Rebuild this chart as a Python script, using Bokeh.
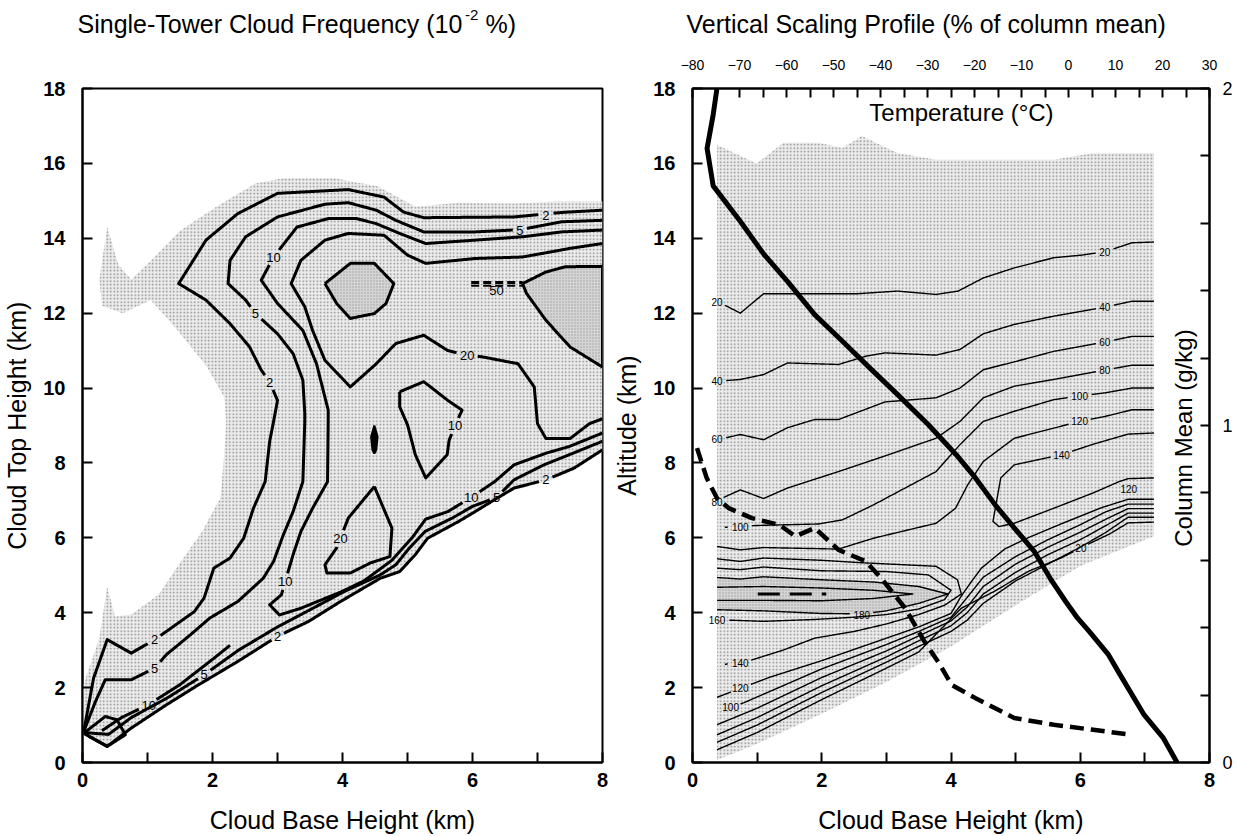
import math
from bokeh.plotting import figure
from bokeh.models import Range1d, LinearAxis, FixedTicker, Label
from bokeh.layouts import row, column
from bokeh.embed import file_html
from bokeh.resources import INLINE
from bokeh.core.properties import value

FONT = "Liberation Sans"
NAN = float("nan")

# ---------------- TITLES ----------------
left_title = ["Single-Tower Cloud Frequency (10", "-2", "%)"]
right_title = "Vertical Scaling Profile (% of column mean)"

# ---------------- LEFT PANEL DATA (cloud base km, cloud top km) ----------------
stipple_left = [(0.0,0.75),(0.0,2.0),(0.26,3.32),(0.38,4.7),(0.5,3.9),(0.75,3.95),(1.17,4.48),
    (1.48,5.28),(1.84,6.17),(2.12,7.06),(2.18,8.22),(2.21,9.11),(2.18,9.76),(1.9,10.6),(1.42,11.63),
    (1.05,12.35),(0.62,12.0),(0.3,12.2),(0.26,12.9),(0.38,14.3),(0.55,13.3),(0.75,12.9),(1.05,13.4),
    (1.5,14.2),(2.06,14.84),(2.66,15.46),(3.09,15.6),(3.88,15.6),(4.55,15.38),(5.12,14.84),(5.8,14.95),
    (6.64,14.93),(7.25,14.98),(8.0,14.98),(8.0,8.3),(7.56,7.8),(7.13,7.5),(6.64,7.28),(6.34,6.97),
    (6.04,6.65),(5.79,6.39),(5.31,5.94),(5.12,5.5),(4.88,5.05),(4.58,4.87),(3.97,4.25),(3.48,3.72),
    (3.0,3.32),(2.39,2.65),(1.78,2.02),(1.29,1.49),(0.75,0.87),(0.38,0.38),(0.0,0.75)]

freq50_a = [(3.73,12.79),(4.12,13.33),(4.49,13.33),(4.79,12.79),(4.67,12.26),(4.49,11.99),
    (4.12,11.86),(3.91,12.26),(3.73,12.79)]
freq50_b = [(6.77,12.79),(7.13,13.1),(7.43,13.24),(8.0,13.25),(8.0,10.56),(7.5,11.1),(7.13,11.81),
    (6.83,12.53),(6.77,12.79)]
freq50_sliver = [(5.98,12.79),(6.77,12.79)]
freq50_labels = [(6.37,12.6,"50")]

freq2_outer = [(8.0,14.75),(7.37,14.69),(6.64,14.57),(5.25,14.55),(4.94,14.7),(4.64,15.1),(4.09,15.3),
    (3.0,15.2),(2.39,14.66),(1.9,13.95),(1.48,12.79),(1.9,12.35),(2.27,11.72),(2.57,11.1),(2.75,10.48),
    (2.88,10.16),(3.0,9.67),(2.94,9.11),(2.88,8.58),(2.81,7.5),(2.63,6.79),(2.48,5.99),(2.27,5.46),
    (2.02,5.19),(1.87,4.39),(1.72,4.03),(1.29,3.5),(1.11,3.28),(0.75,2.92),(0.38,3.28),(0.17,2.25),(0.02,0.83)]
freq2_outer_labels = [(7.13,14.62,"2"),(2.88,10.16,"2"),(1.11,3.28,"2")]
freq2_diag = [(0.02,0.78),(0.38,0.43),(0.75,0.92),(1.29,1.54),(1.78,2.07),(2.39,2.7),(3.0,3.37),
    (3.48,3.77),(3.97,4.3),(4.58,4.92),(4.88,5.1),(5.12,5.55),(5.31,5.99),(5.79,6.44),(6.04,6.7),
    (6.34,7.02),(6.64,7.33),(7.13,7.55),(7.56,7.86),(8.0,8.35)]
freq2_diag_labels = [(3.0,3.37,"2"),(7.13,7.55,"2")]

freq5_outer = [(8.0,14.48),(7.37,14.44),(6.73,14.23),(6.04,14.17),(5.25,14.17),(4.82,14.48),(4.52,14.75),
    (4.09,14.95),(3.73,14.91),(3.0,14.57),(2.51,14.04),(2.27,13.41),(2.24,12.79),(2.51,12.35),(2.66,11.99),
    (3.0,11.45),(3.24,10.92),(3.39,10.21),(3.42,9.32),(3.42,9.11),(3.39,7.5),(3.24,6.7),(3.09,6.08),
    (2.94,5.37),(2.78,4.92),(2.39,4.3),(1.96,3.86),(1.66,3.41),(1.29,2.88),(1.11,2.52),(0.75,2.21),
    (0.35,2.21),(0.2,1.63),(0.02,0.83)]
freq5_outer_labels = [(6.73,14.22,"5"),(2.66,11.99,"5"),(1.11,2.52,"5")]
freq5_diag = [(0.02,0.8),(0.4,0.75),(0.75,1.2),(1.3,1.72),(1.87,2.34),(2.4,3.0),(3.0,3.62),(3.6,4.17),
    (4.03,4.57),(4.58,5.01),(4.82,5.28),(5.03,5.73),(5.27,6.17),(5.69,6.53),(6.0,6.84),(6.37,7.08),
    (6.64,7.55),(7.1,7.95),(7.49,8.22),(8.0,8.58)]
freq5_diag_labels = [(1.87,2.34,"5"),(6.37,7.08,"5")]

freq10_main = [(8.0,14.22),(7.37,14.17),(6.77,14.04),(6.04,13.95),(5.28,13.86),(4.88,14.13),(4.52,14.39),
    (4.21,14.53),(3.79,14.53),(3.30,14.3),(2.94,13.5),(2.75,12.88),(3.0,12.26),(3.39,11.54),(3.6,10.65),
    (3.78,9.41),(3.78,9.11),(3.77,7.5),(3.54,6.79),(3.36,6.17),(3.24,5.55),(3.12,4.84),(3.06,4.48),
    (2.88,4.21),(3.03,3.94),(3.36,4.12),(3.97,4.55),(4.33,4.85),(4.76,5.4),(5.07,6.0),(5.28,6.5),
    (5.62,6.7),(5.98,7.08),(6.34,7.5),(6.64,7.95),(7.13,8.26),(7.49,8.44),(8.0,8.8)]
freq10_main_labels = [(2.94,13.5,"10"),(3.12,4.84,"10"),(5.98,7.08,"10")]
freq10_sliver = [(0.3,0.85),(0.6,1.2),(1.02,1.55),(1.5,2.08),(2.02,2.78),(2.27,3.13)]
freq10_sliver_labels = [(1.02,1.52,"10")]
freq10_loop = [(4.88,9.9),(5.25,10.17),(5.62,9.67),(5.84,9.41),(5.73,9.0),(5.64,8.6),(5.61,8.22),
    (5.28,7.6),(5.12,8.22),(5.0,9.02),(4.88,9.5),(4.88,9.9)]
freq10_loop_labels = [(5.73,9.0,"10")]
freq_origin_loop = [(0.02,0.78),(0.35,1.23),(0.53,1.14),(0.66,0.74),(0.38,0.43),(0.02,0.78)]

freq20_main = [(8.0,13.86),(7.5,13.73),(6.77,13.5),(6.04,13.46),(5.28,13.33),(5.0,13.55),(4.64,14.08),
    (4.09,14.13),(3.73,13.95),(3.36,13.41),(3.21,12.79),(3.42,12.17),(3.54,11.54),(3.73,10.74),
    (4.12,10.03),(4.52,10.65),(4.82,11.19),(5.25,11.41),(5.62,11.0),(5.92,10.88),(6.16,10.83),
    (6.7,10.65),(6.95,10.03),(7.0,9.05),(7.13,8.65),(7.5,8.65),(7.8,9.05),(8.0,9.18)]
freq20_main_labels = [(5.92,10.88,"20")]
freq20_loop = [(4.49,7.37),(4.09,6.53),(3.97,6.0),(3.91,5.73),(3.73,5.28),(3.76,5.06),(4.12,5.06),
    (4.43,5.33),(4.73,5.5),(4.76,6.26),(4.49,7.37)]
freq20_loop_labels = [(3.97,5.98,"20")]
freq_peak_dot = [(4.49,9.0),(4.54,8.7),(4.52,8.35),(4.49,8.25),(4.46,8.35),(4.44,8.7),(4.49,9.0)]

# ---------------- RIGHT PANEL DATA (cloud base km, altitude km) ----------------
stipple_right = [(0.38,0.07),(0.38,16.5),(0.99,16.0),(1.41,16.55),(1.95,16.55),(2.32,16.41),(2.62,16.73),
    (3.17,16.28),(3.77,16.1),(5.59,16.1),(6.2,16.28),(7.14,16.28),(7.14,6.04),(6.0,5.25),(5.0,4.2),
    (4.0,3.1),(3.0,2.15),(2.0,1.3),(1.0,0.5),(0.38,0.07)]

prof20 = [(0.38,12.32),(0.74,12.0),(1.10,12.52),(2.56,12.52),(3.17,12.59),(3.77,12.5),(4.11,12.59),
    (4.5,12.94),(4.98,13.21),(5.59,13.48),(6.02,13.55),(6.38,13.64),(6.8,13.88),(7.14,13.9)]
prof20_labels = [(0.38,12.3,"20"),(6.38,13.64,"20")]
prof40 = [(0.38,10.18),(0.74,10.23),(1.1,10.36),(1.47,10.67),(2.26,10.63),(2.68,10.85),(2.98,10.94),
    (3.77,10.88),(4.14,11.03),(4.5,11.45),(4.98,11.7),(5.59,11.92),(6.38,12.16),(6.8,12.32),(7.14,12.32)]
prof40_labels = [(0.38,10.18,"40"),(6.38,12.16,"40")]
prof60 = [(0.38,8.62),(0.74,8.76),(1.1,8.62),(1.47,8.94),(1.89,9.16),(2.26,9.16),(2.98,9.63),(3.77,9.74),
    (4.14,10.0),(4.5,10.49),(4.98,10.7),(5.59,10.98),(6.38,11.23),(6.8,11.38),(7.14,11.38)]
prof60_labels = [(0.38,8.64,"60"),(6.38,11.23,"60")]
prof80 = [(0.38,7.0),(0.74,7.28),(1.1,7.05),(1.47,7.33),(2.26,7.77),(3.0,8.2),(3.77,8.66),(4.14,9.11),
    (4.5,9.74),(4.98,10.05),(5.59,10.23),(6.38,10.48),(6.8,10.61),(7.14,10.61)]
prof80_labels = [(0.38,6.97,"80"),(6.38,10.48,"80")]
prof100 = [(0.5,6.28),(0.98,6.33),(1.95,6.37),(2.32,6.48),(2.8,6.88),(3.29,7.33),(3.77,7.77),(4.14,8.49),
    (4.5,9.11),(4.98,9.38),(5.59,9.69),(5.99,9.79),(6.38,9.87),(6.8,10.0),(7.14,10.0)]
prof100_labels = [(0.74,6.28,"100"),(5.99,9.79,"100")]
prof120_upper = [(0.38,5.77),(0.74,5.68),(1.1,5.74),(2.26,5.7),(2.8,5.99),(3.77,6.39),(4.07,6.79),
    (4.26,7.42),(4.5,8.04),(4.98,8.66),(5.59,8.93),(5.99,9.11),(6.38,9.24),(6.8,9.42),(7.14,9.42)]
prof120_upper_labels = [(5.99,9.11,"120")]
prof140_loop = [(7.14,8.8),(6.74,8.77),(6.2,8.5),(5.71,8.22),(4.98,7.95),(4.77,7.6),(4.65,6.44),
    (4.74,6.3),(4.98,6.39),(5.59,6.79),(6.2,7.2),(6.6,7.5),(6.74,7.58),(7.14,7.6)]
prof140_loop_labels = [(5.71,8.22,"140")]
prof140_u = [(0.38,5.44),(0.74,5.37),(1.1,5.46),(2.0,5.4),(2.56,5.34),(3.77,5.24),(4.1,4.88),(4.16,4.5),
    (3.9,4.2),(3.5,3.95),(3.0,3.7),(2.5,3.5),(1.89,3.32),(1.4,3.0),(0.92,2.74),(0.5,2.62)]
prof140_u_labels = [(0.74,2.65,"140")]
prof160 = [(0.38,3.81),(0.6,3.8),(1.1,3.77),(1.89,3.82),(2.5,3.88),(3.0,3.95),(3.5,4.1),(3.9,4.35),
    (4.0,4.6),(3.65,5.01),(3.0,5.1),(2.0,5.12),(1.1,5.22),(0.74,5.15),(0.38,5.19)]
prof160_labels = [(0.38,3.81,"160")]
prof180 = [(0.38,4.94),(0.74,4.9),(1.1,4.96),(2.0,4.88),(2.8,4.82),(3.5,4.7),(3.95,4.5),(3.5,4.25),
    (3.0,4.05),(2.62,3.97),(2.0,3.98),(1.1,4.05),(0.38,4.08)]
prof180_labels = [(2.62,3.95,"180")]
prof200 = [(0.38,4.68),(1.1,4.7),(2.0,4.66),(2.8,4.6),(3.41,4.5),(2.8,4.38),(2.0,4.32),(1.1,4.33),(0.38,4.33)]
prof220 = [(1.01,4.5),(2.07,4.5)]
prof120_right_label = [(6.75,7.3,"120")]

base120 = [(0.38,1.74),(0.74,1.98),(1.2,2.28),(2.0,2.72),(3.0,3.32),(3.5,3.62),(4.0,3.98),(4.16,4.45),
    (4.32,4.84),(4.47,5.19),(4.83,5.7),(5.19,6.0),(5.7,6.37),(6.32,6.8),(6.74,7.03),(7.14,7.03)]
base120_labels = [(0.74,2.0,"120")]
base100 = [(0.45,1.38),(0.8,1.6),(1.2,1.9),(2.0,2.5),(3.0,3.15),(3.5,3.5),(4.0,3.88),(4.2,4.3),
    (4.5,4.95),(5.0,5.5),(5.5,5.95),(6.0,6.35),(6.4,6.7),(6.74,6.9),(7.14,6.9)]
base100_labels = [(0.59,1.47,"100")]
base80 = [(0.38,1.01),(1.0,1.45),(2.0,2.27),(3.0,2.98),(3.5,3.38),(4.0,3.78),(4.25,4.15),(4.5,4.7),
    (5.0,5.3),(5.5,5.75),(6.0,6.15),(6.4,6.5),(6.74,6.78),(7.14,6.78)]
base60 = [(0.38,0.74),(1.0,1.2),(2.0,2.05),(3.0,2.82),(3.5,3.25),(4.0,3.65),(4.25,4.0),(4.5,4.5),
    (5.0,5.08),(5.5,5.55),(6.0,5.95),(6.4,6.33),(6.74,6.66),(7.14,6.66)]
base40 = [(0.38,0.54),(1.0,1.0),(2.0,1.87),(3.0,2.68),(3.5,3.1),(4.0,3.5),(4.25,3.8),(4.5,4.25),
    (5.0,4.85),(5.5,5.3),(6.0,5.75),(6.4,6.15),(6.74,6.55),(7.14,6.55)]
base20 = [(0.38,0.34),(1.0,0.8),(2.0,1.68),(3.0,2.52),(3.5,2.95),(4.16,4.12),(4.67,4.57),(5.19,5.1),
    (5.7,5.46),(6.12,5.83),(6.45,6.1),(6.74,6.4),(7.14,6.42)]
base20_labels = [(6.01,5.72,"20")]

# temperature profile (deg C vs altitude km)
temp_c = [-74.8,-75.6,-76.9,-75.6,-69.8,-64.8,-59.8,-54.0,-48.1,-42.3,-36.4,-29.8,-23.9,-19.8,-15.6,
          -11.5,-7.3,-3.9,-0.6,1.9,4.4,8.5,11.0,16.1,20.2,23.1]
temp_alt = [18.0,17.3,16.4,15.4,14.45,13.57,12.85,11.96,11.25,10.54,9.83,9.02,8.22,7.6,6.88,6.26,
            5.64,4.92,4.3,3.86,3.5,2.88,2.34,1.27,0.65,0.0]
# column mean (g/kg) vs cloud base height (km)
colmean_base = [0.07,0.22,0.38,0.56,0.92,1.35,1.59,1.89,2.26,2.68,2.92,3.29,3.59,3.83,4.01,4.38,
                4.98,5.59,6.2,6.8]
colmean_val = [0.933,0.844,0.784,0.755,0.725,0.705,0.671,0.696,0.631,0.597,0.547,0.458,0.359,0.290,
               0.230,0.191,0.132,0.112,0.097,0.082]

x_ticks = [0, 2, 4, 6, 8]
x_minor = [1, 3, 5, 7]
y_ticks = [0, 2, 4, 6, 8, 10, 12, 14, 16, 18]
temp_ticks = [-80, -70, -60, -50, -40, -30, -20, -10, 0, 10, 20, 30]
temp_minor = [-75, -65, -55, -45, -35, -25, -15, -5, 5, 15, 25]
cm_ticks = [0, 1, 2]
cm_minor = [0.2, 0.4, 0.6, 0.8, 1.2, 1.4, 1.6, 1.8]

# ---------------- helpers ----------------
def densify(pts, sx, sy, step=1.0):
    xs, ys = [], []
    for (x0, y0), (x1, y1) in zip(pts[:-1], pts[1:]):
        n = max(1, int(math.hypot((x1 - x0) * sx, (y1 - y0) * sy) / step))
        for k in range(n):
            t = k / n
            xs.append(x0 + (x1 - x0) * t)
            ys.append(y0 + (y1 - y0) * t)
    xs.append(pts[-1][0]); ys.append(pts[-1][1])
    return xs, ys

def gapped(pts, labels, sx, sy, cw, ry):
    xs, ys = densify(pts, sx, sy)
    ox, oy = [], []
    for x, y in zip(xs, ys):
        hide = False
        for (lx, ly, t) in labels:
            rx = len(t) * cw / 2 + 3
            if ((x - lx) * sx / rx) ** 2 + ((y - ly) * sy / ry) ** 2 < 1:
                hide = True
                break
        if hide:
            if ox and not math.isnan(ox[-1]):
                ox.append(NAN); oy.append(NAN)
        else:
            ox.append(x); oy.append(y)
    return ox, oy

def style_axis(ax, size="20px", bold=True, tick_len=10):
    ax.axis_line_width = 2
    ax.axis_line_color = "black"
    ax.major_tick_in = tick_len
    ax.major_tick_out = 0
    ax.minor_tick_in = tick_len
    ax.minor_tick_out = 0
    ax.major_tick_line_width = 2
    ax.minor_tick_line_width = 2
    ax.major_tick_line_color = "black"
    ax.minor_tick_line_color = "black"
    ax.major_label_text_font = FONT
    ax.major_label_text_font_size = size
    ax.major_label_text_font_style = "bold" if bold else "normal"
    ax.major_label_text_color = "black"
    ax.axis_label_text_font = FONT
    ax.axis_label_text_font_size = "25px"
    ax.axis_label_text_font_style = "normal"
    ax.axis_label_text_color = "black"

TOP = 48  # height of the title strip

def make_fig(width, bl, br, ylabel):
    p = figure(width=width, height=836 - TOP, x_range=Range1d(0, 8), y_range=Range1d(0, 18),
               output_backend="svg", toolbar_location=None,
               min_border_left=bl, min_border_right=br, min_border_top=88 - TOP, min_border_bottom=74)
    p.grid.visible = False
    p.outline_line_color = "black"
    p.outline_line_width = 2
    p.background_fill_color = "white"
    p.border_fill_color = "white"
    xa = p.xaxis[0]
    xa.ticker = FixedTicker(ticks=x_ticks, minor_ticks=x_minor)
    style_axis(xa)
    xa.major_label_standoff = 10
    xa.axis_label = "Cloud Base Height (km)"
    xa.axis_label_standoff = 16
    ya = p.yaxis[0]
    ya.ticker = FixedTicker(ticks=y_ticks)
    style_axis(ya)
    ya.major_label_standoff = 17
    ya.axis_label = ylabel
    ya.axis_label_standoff = 9
    return p

def add_text(p, x, y, t, size, align="left", baseline="alphabetic", angle=0.0):
    p.add_layout(Label(x=x, y=y, text=t, text_font=FONT, text_font_size=size,
                       text_align=align, text_baseline=baseline, angle=angle, text_color="black"))

# ---------------- TITLE STRIP ----------------
pt = figure(width=1237, height=TOP, x_range=Range1d(0, 1237), y_range=Range1d(TOP, 0),
            output_backend="svg", toolbar_location=None, x_axis_type=None, y_axis_type=None,
            min_border=0, min_border_left=0, min_border_right=0, min_border_top=0, min_border_bottom=0)
pt.grid.visible = False
pt.outline_line_color = None
pt.background_fill_color = "white"
pt.border_fill_color = "white"
TB = 23  # title baseline within the strip
pt.text([77], [TB], text=[left_title[0]], text_font=value(FONT), text_font_size="25px",
        text_baseline="alphabetic", text_align="left", text_color="black")
pt.text([464.6], [TB - 9], text=[left_title[1]], text_font=value(FONT), text_font_size="15px",
        text_baseline="alphabetic", text_align="left", text_color="black")
pt.text([485], [TB], text=[left_title[2]], text_font=value(FONT), text_font_size="25px",
        text_baseline="alphabetic", text_align="left", text_color="black")
pt.text([686], [TB], text=[right_title], text_font=value(FONT), text_font_size="25px",
        text_baseline="alphabetic", text_align="left", text_color="black")

# ---------------- LEFT FIGURE ----------------
SXL, SYL = 65.0, 674 / 18.0
p1 = make_fig(610, 82, 8, "Cloud Top Height (km)")
p1.patch([a for a, b in stipple_left], [b for a, b in stipple_left], fill_color="#ececec",
         hatch_pattern="dot", hatch_color="#8a8a8a", hatch_scale=3.5, hatch_weight=1, line_color=None)
for poly in (freq50_a, freq50_b):
    p1.patch([a for a, b in poly], [b for a, b in poly], fill_color="#d4d4d4",
             hatch_pattern="dot", hatch_color="#a0a0a0", hatch_scale=3, hatch_weight=1, line_color=None)

left_lines = [
    (freq2_outer, freq2_outer_labels), (freq2_diag, freq2_diag_labels),
    (freq5_outer, freq5_outer_labels), (freq5_diag, freq5_diag_labels),
    (freq10_main, freq10_main_labels), (freq10_sliver, freq10_sliver_labels),
    (freq10_loop, freq10_loop_labels), (freq_origin_loop, []),
    (freq20_main, freq20_main_labels), (freq20_loop, freq20_loop_labels),
    (freq50_a, []), (freq50_b[:5], []), (freq50_b[4:], []),
]
for pts, labs in left_lines:
    xs, ys = gapped(pts, labs, SXL, SYL, 7.5, 8)
    p1.line(xs, ys, line_color="black", line_width=3, line_join="round")
    for (lx, ly, t) in labs:
        p1.text([lx], [ly], text=[t], text_font=value(FONT), text_font_size="13px",
                text_align="center", text_baseline="middle", text_color="black")
p1.line([a for a, b in freq50_sliver], [b + 0.03 for a, b in freq50_sliver], line_color="black",
        line_width=3, line_dash="8 4")
p1.line([a for a, b in freq50_sliver], [b - 0.06 for a, b in freq50_sliver], line_color="black",
        line_width=2, line_dash="8 4")
for (lx, ly, t) in freq50_labels:
    p1.text([lx], [ly], text=[t], text_font=value(FONT), text_font_size="13px",
            text_align="center", text_baseline="middle", text_color="black")
p1.patch([a for a, b in freq_peak_dot], [b for a, b in freq_peak_dot], fill_color="black",
         line_color="black", line_width=2)

# ---------------- RIGHT FIGURE ----------------
SXR, SYR = 519 / 8.0, 673 / 18.0
p2 = make_fig(627, 80, 28, "Altitude (km)")
p2.extra_x_ranges = {"temp": Range1d(-80, 30)}
p2.extra_y_ranges = {"cm": Range1d(0, 2)}
ta = LinearAxis(x_range_name="temp", ticker=FixedTicker(ticks=temp_ticks, minor_ticks=temp_minor))
style_axis(ta, size="14px", bold=False, tick_len=9)
ta.major_label_standoff = 19
p2.add_layout(ta, "above")
ra = LinearAxis(y_range_name="cm", ticker=FixedTicker(ticks=cm_ticks, minor_ticks=cm_minor))
style_axis(ra, size="18px", bold=False, tick_len=9)
ra.major_label_standoff = 13
p2.add_layout(ra, "right")

p2.patch([a for a, b in stipple_right], [b for a, b in stipple_right], fill_color="#ececec",
         hatch_pattern="dot", hatch_color="#8a8a8a", hatch_scale=3.5, hatch_weight=1, line_color=None)
gray = prof180 + [prof180[0]]
p2.patch([a for a, b in gray], [b for a, b in gray], fill_color="#d4d4d4",
         hatch_pattern="dot", hatch_color="#a0a0a0", hatch_scale=3, hatch_weight=1, line_color=None)

right_lines = [
    (prof20, prof20_labels), (prof40, prof40_labels), (prof60, prof60_labels), (prof80, prof80_labels),
    (prof100, prof100_labels), (prof120_upper, prof120_upper_labels), (prof140_loop, prof140_loop_labels),
    (prof140_u, prof140_u_labels), (prof160, prof160_labels), (prof180, prof180_labels), (prof200, []),
    (base120, base120_labels), (base100, base100_labels), (base80, []), (base60, []), (base40, []),
    (base20, base20_labels),
]
for pts, labs in right_lines:
    xs, ys = gapped(pts, labs, SXR, SYR, 5.8, 6)
    p2.line(xs, ys, line_color="black", line_width=1.4, line_join="round")
    for (lx, ly, t) in labs:
        p2.text([lx], [ly], text=[t], text_font=value(FONT), text_font_size="10px",
                text_align="center", text_baseline="middle", text_color="black")
for (lx, ly, t) in prof120_right_label:
    p2.text([lx], [ly], text=[t], text_font=value(FONT), text_font_size="10px",
            text_align="center", text_baseline="middle", text_color="black")
p2.line([a for a, b in prof220], [b for a, b in prof220], line_color="black", line_width=3,
        line_dash="22 10")

p2.line(temp_c, temp_alt, x_range_name="temp", line_color="black", line_width=5, line_join="round")
p2.line(colmean_base, colmean_val, y_range_name="cm", line_color="black", line_width=4.5,
        line_dash="14 7")

add_text(p2, (960 - 690) / SXR, 18 - 24 / SYR, "Temperature (°C)", "24px", align="center",
         baseline="middle")
add_text(p2, (1183 - 690) / SXR, 18 - (437 - 88) / SYR, "Column Mean (g/kg)", "24px", align="center",
         baseline="middle", angle=math.pi / 2)

layout = column(pt, row(p1, p2))
open("out.html", "w").write(file_html(layout, INLINE))
